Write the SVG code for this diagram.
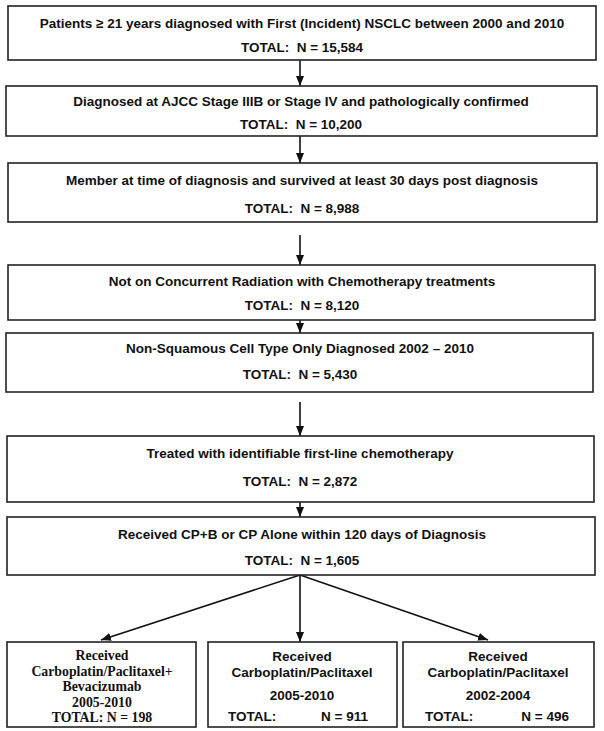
<svg xmlns="http://www.w3.org/2000/svg" width="604" height="731" viewBox="0 0 604 731">
<style>
  .box { fill: #ffffff; stroke: #222222; stroke-width: 1.6; }
  .t { font-family: "Liberation Sans", Arial, sans-serif; font-weight: bold; font-size: 13.5px; fill: #111111; text-anchor: middle; white-space: pre; }
  .s { font-family: "Liberation Sans", Arial, sans-serif; font-weight: bold; font-size: 13.5px; fill: #111111; text-anchor: middle; white-space: pre; }
  .sl { text-anchor: start; }
  .sr { text-anchor: end; }
  .f { font-family: "Liberation Serif", "Times New Roman", serif; font-weight: bold; font-size: 13.8px; fill: #111111; text-anchor: middle; }
  .c { stroke: #111111; stroke-width: 1.6; fill: none; marker-end: url(#ah); }
</style>
<defs>
  <marker id="ah" markerUnits="userSpaceOnUse" markerWidth="10" markerHeight="10" viewBox="0 0 10 10" refX="10" refY="5" orient="auto">
    <path d="M0,1 L10,5 L0,9 Z" fill="#111111"/>
  </marker>
</defs>
<rect width="604" height="731" fill="#ffffff"/>
<g id="connectors">
  <line class="c" x1="300" y1="60" x2="300" y2="86"/>
  <line class="c" x1="300" y1="136" x2="300" y2="163"/>
  <line class="c" x1="300" y1="235" x2="300" y2="265"/>
  <line class="c" x1="300" y1="320" x2="300" y2="333"/>
  <line class="c" x1="300" y1="402" x2="300" y2="436"/>
  <line class="c" x1="300" y1="502" x2="300" y2="517"/>
  <line class="c" x1="300" y1="575" x2="101" y2="640"/>
  <line class="c" x1="300" y1="575" x2="300" y2="642"/>
  <line class="c" x1="300" y1="575" x2="488" y2="640"/>
</g>
<g id="n1">
  <rect class="box" x="8" y="6" width="588" height="54"/>
  <text class="t" x="302" y="28">Patients ≥ 21 years diagnosed with First (Incident) NSCLC between 2000 and 2010</text>
  <text class="t" x="302" y="52">TOTAL:  N = 15,584</text>
</g>
<g id="n2">
  <rect class="box" x="6" y="86" width="591" height="50"/>
  <text class="t" x="301" y="106">Diagnosed at AJCC Stage IIIB or Stage IV and pathologically confirmed</text>
  <text class="t" x="301" y="129">TOTAL:  N = 10,200</text>
</g>
<g id="n3">
  <rect class="box" x="8" y="163" width="589" height="59"/>
  <text class="t" x="302" y="185">Member at time of diagnosis and survived at least 30 days post diagnosis</text>
  <text class="t" x="302" y="213">TOTAL:  N = 8,988</text>
</g>
<g id="n4">
  <rect class="box" x="8" y="265" width="587" height="55"/>
  <text class="t" x="302" y="286">Not on Concurrent Radiation with Chemotherapy treatments</text>
  <text class="t" x="302" y="310">TOTAL:  N = 8,120</text>
</g>
<g id="n5">
  <rect class="box" x="6" y="333" width="587" height="59"/>
  <text class="t" x="300" y="353">Non-Squamous Cell Type Only Diagnosed 2002 – 2010</text>
  <text class="t" x="300" y="379">TOTAL:  N = 5,430</text>
</g>
<g id="n6">
  <rect class="box" x="7" y="436" width="587" height="66"/>
  <text class="t" x="300" y="458">Treated with identifiable first-line chemotherapy</text>
  <text class="t" x="300" y="486">TOTAL:  N = 2,872</text>
</g>
<g id="n7">
  <rect class="box" x="7" y="517" width="588" height="58"/>
  <text class="t" x="302" y="539">Received CP+B or CP Alone within 120 days of Diagnosis</text>
  <text class="t" x="302" y="565">TOTAL:  N = 1,605</text>
</g>
<g id="n8">
  <rect class="box" x="7" y="642" width="189" height="85"/>
  <text class="f" x="102" y="660">Received</text>
  <text class="f" x="102" y="675.5">Carboplatin/Paclitaxel+</text>
  <text class="f" x="102" y="691">Bevacizumab</text>
  <text class="f" x="102" y="706.5">2005-2010</text>
  <text class="f" x="102" y="722">TOTAL: N = 198</text>
</g>
<g id="n9">
  <rect class="box" x="208" y="642" width="189" height="85"/>
  <text class="s" x="302" y="661">Received</text>
  <text class="s" x="302" y="677">Carboplatin/Paclitaxel</text>
  <text class="s" x="302" y="700">2005-2010</text>
  <text class="s sl" x="228" y="721">TOTAL:</text>
  <text class="s sr" x="368" y="721">N = 911</text>
</g>
<g id="n10">
  <rect class="box" x="403" y="642" width="191" height="85"/>
  <text class="s" x="498" y="661">Received</text>
  <text class="s" x="498" y="677">Carboplatin/Paclitaxel</text>
  <text class="s" x="498" y="700">2002-2004</text>
  <text class="s sl" x="425" y="721">TOTAL:</text>
  <text class="s sr" x="569" y="721">N = 496</text>
</g>
</svg>
